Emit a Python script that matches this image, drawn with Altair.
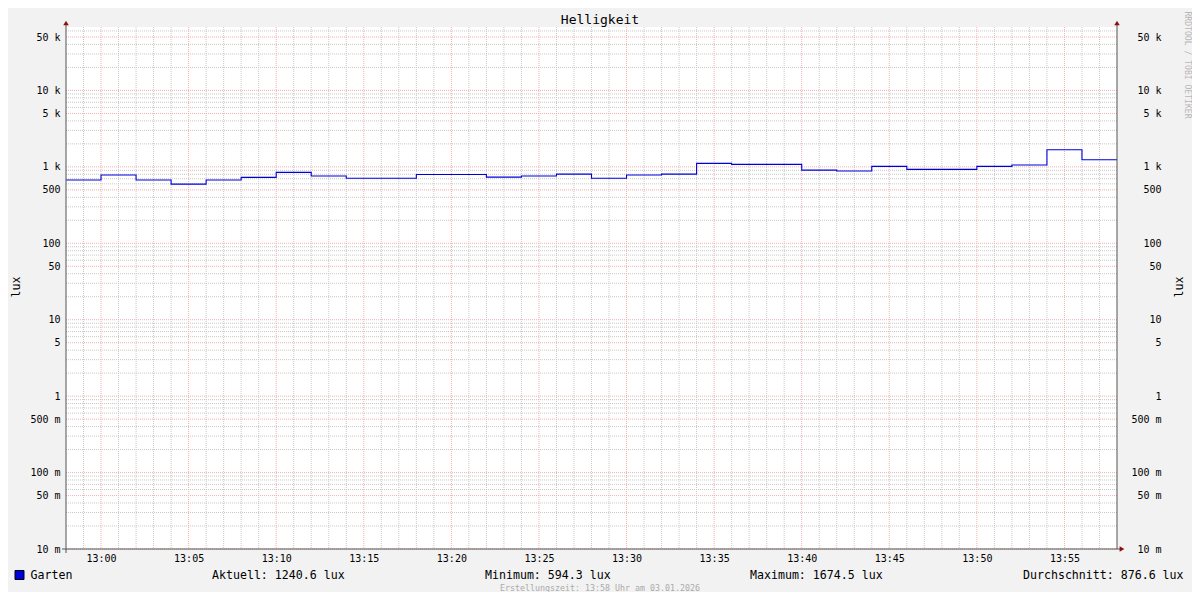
import altair as alt
import pandas as pd

# ---------------- data ----------------
times = ["12:58", "13:00", "13:02", "13:04", "13:06", "13:08", "13:10", "13:12",
         "13:14", "13:16", "13:18", "13:20", "13:22", "13:24", "13:26", "13:28",
         "13:30", "13:32", "13:34", "13:36", "13:38", "13:40", "13:42", "13:44",
         "13:46", "13:48", "13:50", "13:52", "13:54", "13:56", "13:58"]
lux = [672, 781, 672, 594.3, 672, 728, 847, 759,
       708, 708, 796, 796, 735, 759, 803, 708,
       781, 803, 1111, 1079, 1079, 907, 881, 1015,
       927, 927, 1015, 1057, 1674.5, 1240.6, 1240.6]

x_tick_labels = ["13:00", "13:05", "13:10", "13:15", "13:20", "13:25",
                 "13:30", "13:35", "13:40", "13:45", "13:50", "13:55"]
x_range = ["12:58", "13:58"]

y_major = [0.01, 0.05, 0.1, 0.5, 1, 5, 10, 50, 100, 500, 1000, 5000, 10000, 50000]
y_minor_mantissa = [2, 3, 4, 6, 7, 8, 9]
y_minor_exponent = [-2, -1, 0, 1, 2, 3, 4]
y_top = 67600

title_text = "Helligkeit"
unit_label = "lux"
series_name = "Garten"
stats = ["Aktuell: 1240.6 lux", "Minimum: 594.3 lux",
         "Maximum: 1674.5 lux", "Durchschnitt: 876.6 lux"]
footer = "Erstellungszeit: 13:58 Uhr am 03.01.2026"
watermark = "RRDTOOL / TOBI OETIKER"


def to_min(s):
    h, m = s.split(":")
    return int(h) * 60 + int(m)


df = pd.DataFrame({"t": [to_min(t) for t in times], "lux": lux})
x_major = [to_min(t) for t in x_tick_labels]
x_lo, x_hi = to_min(x_range[0]), to_min(x_range[1])
x_minor = [m for m in range(x_lo + 1, x_hi) if m not in x_major]
y_minor = [k * 10.0 ** e for e in y_minor_exponent for k in y_minor_mantissa
           if k * 10.0 ** e < y_top]

W, H = 1051, 522
FONT = "DejaVu Sans Mono"
LINE_COLOR = "#0000dd"
MINOR = "#c8c8c8"
MAJOR = "#f4b0b0"
ARROW = "#8b1010"

xs = alt.Scale(domain=[x_lo, x_hi], nice=False, zero=False)
ys = alt.Scale(type="log", domain=[0.01, y_top], nice=False)

y_label_expr = ("datum.value >= 1000 ? format(datum.value/1000,'.0f') + ' k' : "
                "(datum.value >= 1 ? format(datum.value,'.0f') + '\u00a0\u00a0' : "
                "format(datum.value*1000,'.0f') + ' m')")
x_label_expr = ("format(floor(datum.value/60),'02d') + ':' + "
                "format(datum.value % 60,'02d')")

one = alt.Data(values=[{"k": 0}])

v_minor = alt.Chart(pd.DataFrame({"m": x_minor})).mark_rule(
    color=MINOR, strokeDash=[1, 1], strokeWidth=1
).encode(x=alt.X("m:Q", scale=xs, axis=None))

v_major = alt.Chart(pd.DataFrame({"m": x_major})).mark_rule(
    color=MAJOR, strokeDash=[1, 1], strokeWidth=1
).encode(x=alt.X("m:Q", scale=xs, axis=None))

h_minor = alt.Chart(pd.DataFrame({"v": y_minor})).mark_rule(
    color=MINOR, strokeDash=[1, 1], strokeWidth=1
).encode(y=alt.Y("v:Q", scale=ys, axis=None))

h_major = alt.Chart(pd.DataFrame({"v": y_major})).mark_rule(
    color=MAJOR, strokeDash=[1, 1], strokeWidth=1
).encode(y=alt.Y("v:Q", scale=ys, axis=alt.Axis(
    orient="right", values=y_major, labelExpr=y_label_expr, labelAlign="right",
    labelPadding=44, domain=False, ticks=False, grid=False, title=None,
    labelFont=FONT, labelFontSize=10, labelColor="black")))

line = alt.Chart(df).mark_line(
    interpolate="step-after", color=LINE_COLOR, strokeWidth=1.1
).encode(
    x=alt.X("t:Q", scale=xs, axis=alt.Axis(
        values=x_major, labelExpr=x_label_expr, domain=False, ticks=False,
        grid=False, title=None, labelFont=FONT, labelFontSize=10,
        labelColor="black", labelPadding=4)),
    y=alt.Y("lux:Q", scale=ys, axis=alt.Axis(
        orient="left", values=y_major, labelExpr=y_label_expr, labelPadding=6,
        domain=False, ticks=False, grid=False, title=None, labelFont=FONT,
        labelFontSize=10, labelColor="black")),
)


def vrule(x, y, y2, color, width):
    return alt.Chart(one).mark_rule(color=color, strokeWidth=width).encode(
        x=alt.value(x), y=alt.value(y), y2=alt.value(y2))


def hrule(y, x, x2, color, width):
    return alt.Chart(one).mark_rule(color=color, strokeWidth=width).encode(
        y=alt.value(y), x=alt.value(x), x2=alt.value(x2))


def point(shape, x, y, size, **kw):
    return alt.Chart(one).mark_point(shape=shape, size=size, filled=True,
                                     opacity=1, **kw).encode(
        x=alt.value(x), y=alt.value(y))


def text(s, x, y, size=11.6, align="left", baseline="alphabetic",
         color="black", angle=0):
    return alt.Chart(one).mark_text(
        fontSize=size, align=align, baseline=baseline,
        color=color, angle=angle, font=FONT).encode(
        x=alt.value(x), y=alt.value(y), text=alt.value(s))


axis_color = "#555555"
axes = [
    vrule(0, -4, H + 4, axis_color, 1),
    vrule(W, -4, H, axis_color, 1),
    hrule(H, -4, W + 4, axis_color, 1),
]
arrows = [
    point("triangle-up", 0, -4, 30, color=ARROW),
    point("triangle-up", W, -4, 30, color=ARROW),
    point("triangle-right", W + 5, H, 30, color=ARROW),
]

legend_box = point("square", -46.5, 548, 81, fill=LINE_COLOR,
                   stroke="black", strokeWidth=1)

texts = [
    text(title_text, 534, -3.5, size=13, align="center"),
    text(unit_label, -49, 260, align="center", baseline="middle", angle=270),
    text(unit_label, 1114, 260, align="center", baseline="middle", angle=270),
    text(watermark, 1121, 38, size=8.1, align="center", baseline="middle",
         color="#b8b8b8", angle=90),
    text(series_name, -35.5, 552),
    text(stats[0], 146, 552),
    text(stats[1], 419, 552),
    text(stats[2], 684, 552),
    text(stats[3], 957, 552),
    text(footer, 534, 562, size=8.3, align="center", baseline="middle",
         color="#aaaaaa"),
]

chart = alt.layer(
    v_minor, h_minor, v_major, h_major, line, *axes, *arrows,
    legend_box, *texts
).resolve_scale(x="shared", y="shared").resolve_axis(
    x="independent", y="independent"
).properties(
    width=W, height=H, background="#f2f2f2",
    padding={"left": 58, "top": 19, "right": 75, "bottom": 43},
    autosize=alt.AutoSizeParams(type="none"),
).configure_view(stroke=None, fill="white")

chart.save("out.html", embed_options={"renderer": "svg", "actions": False})
